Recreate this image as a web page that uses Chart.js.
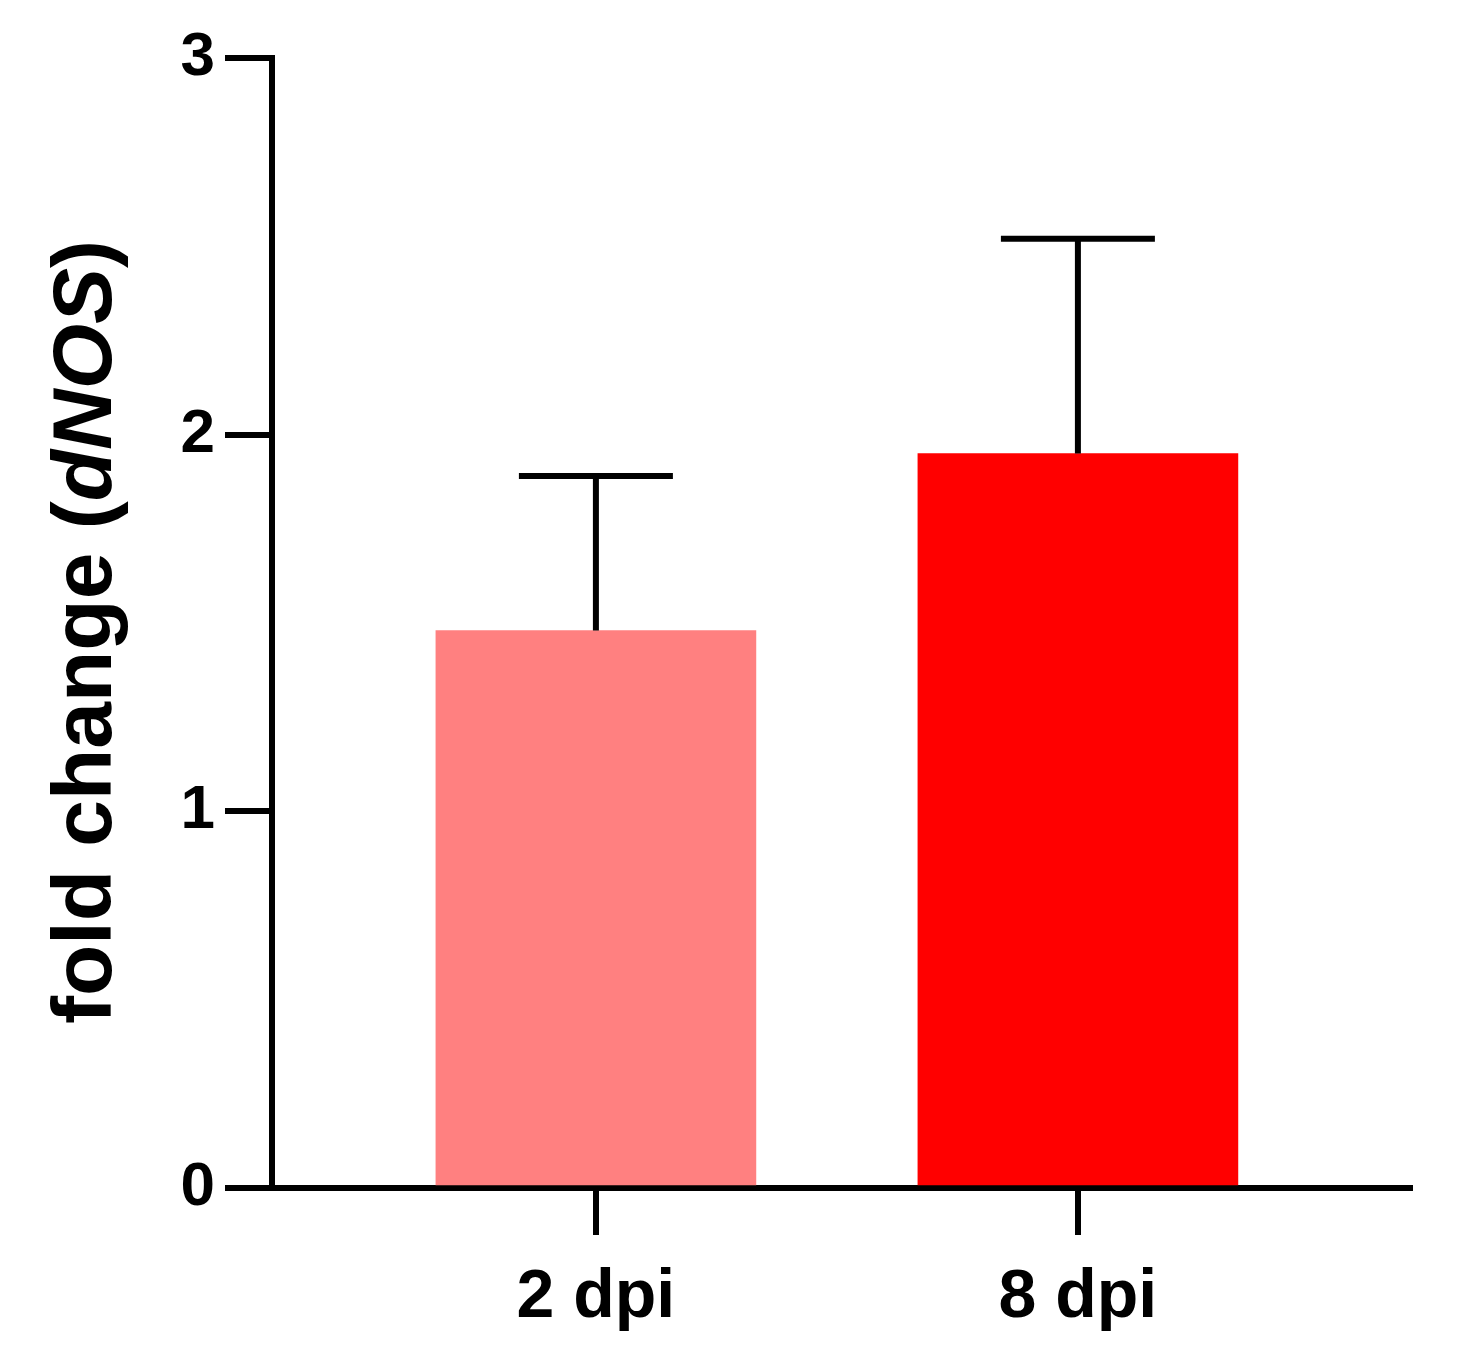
<!DOCTYPE html>
<html><head><meta charset="utf-8">
<script src="https://cdn.jsdelivr.net/npm/chart.js@4"></script>
<style>html,body{margin:0;padding:0;background:#fff}#wrap{width:1457px;height:1372px}</style>
</head><body><div id="wrap"><canvas id="c"></canvas></div>
<script>
const categories = ['2 dpi', '8 dpi'];
const positions = [1, 2];
const means = [1.48, 1.95];
const errors = [0.41, 0.57];
const colors = ['#FF8080', '#FF0000'];
const yTicks = [0, 1, 2, 3];

const errPlugin = {
  id: 'err',
  afterDatasetsDraw(chart) {
    const ctx = chart.ctx, x = chart.scales.x, y = chart.scales.y;
    ctx.save();
    ctx.strokeStyle = '#000'; ctx.lineWidth = 6; ctx.lineCap = 'butt';
    positions.forEach((p, i) => {
      const px = x.getPixelForValue(p);
      const y0 = y.getPixelForValue(means[i]);
      const y1 = y.getPixelForValue(means[i] + errors[i]);
      ctx.beginPath(); ctx.moveTo(px, y0); ctx.lineTo(px, y1); ctx.stroke();
      ctx.beginPath(); ctx.moveTo(px - 77, y1); ctx.lineTo(px + 77, y1); ctx.stroke();
    });
    ctx.restore();
  }
};
const titlePlugin = {
  id: 'ytitle',
  afterDraw(chart) {
    const ctx = chart.ctx;
    const f = '84px Arial';
    const parts = [['fold change (', 'bold ' + f], ['dNOS', 'italic bold ' + f], [')', 'bold ' + f]];
    ctx.save();
    let total = 0;
    parts.forEach(p => { ctx.font = p[1]; total += ctx.measureText(p[0]).width; });
    ctx.translate(88, 632);
    ctx.rotate(-Math.PI / 2);
    ctx.fillStyle = '#000'; ctx.textBaseline = 'middle'; ctx.textAlign = 'left';
    let xx = -total / 2;
    parts.forEach(p => { ctx.font = p[1]; ctx.fillText(p[0], xx, 0); xx += ctx.measureText(p[0]).width; });
    ctx.restore();
  }
};

new Chart(document.getElementById('c'), {
  type: 'bar',
  data: { datasets: [{
    data: positions.map((p, i) => ({ x: p, y: means[i] })),
    backgroundColor: colors, barThickness: 320, borderWidth: 0
  }]},
  options: {
    responsive: true, maintainAspectRatio: false, animation: false,
    layout: { padding: { top: 58, right: 47, left: 0, bottom: 0 } },
    plugins: { legend: { display: false }, tooltip: { enabled: false } },
    scales: {
      x: {
        type: 'linear', min: 0.328, max: 2.689, offset: false,
        afterBuildTicks: s => { s.ticks = positions.map(v => ({ value: v })); },
        afterFit: s => { s.height = 184; },
        grid: { offset: false, drawOnChartArea: false, tickLength: 47, lineWidth: 6, color: '#000' },
        border: { width: 6, color: '#000' },
        ticks: { padding: 22, color: '#000', font: { family: 'Arial', weight: 'bold', size: 68 },
          callback: v => categories[positions.indexOf(v)] ?? '', maxRotation: 0, autoSkip: false }
      },
      y: {
        min: 0, max: 3,
        afterBuildTicks: s => { s.ticks = yTicks.map(v => ({ value: v })); },
        afterFit: s => { s.width = 272; },
        grid: { drawOnChartArea: false, tickLength: 47, lineWidth: 6, color: '#000' },
        border: { width: 6, color: '#000' },
        ticks: { padding: 10, color: '#000', font: { family: 'Arial', weight: 'bold', size: 62 } }
      }
    }
  },
  plugins: [errPlugin, titlePlugin]
});
</script></body></html>
